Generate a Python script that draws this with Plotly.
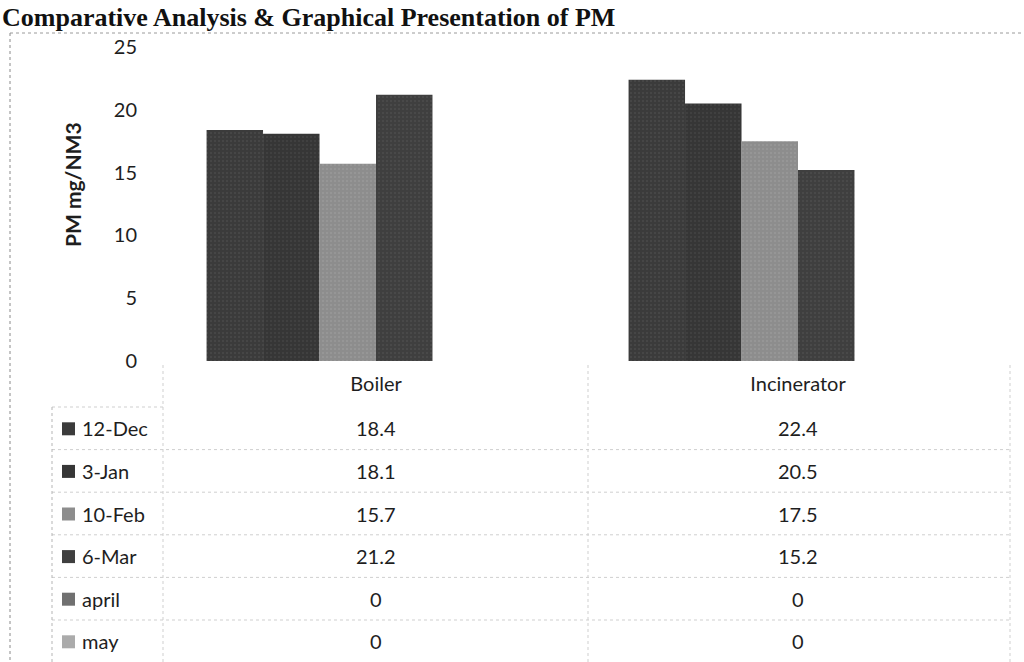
import plotly.graph_objects as go

# ---- data -------------------------------------------------------------
categories = ["Boiler", "Incinerator"]
series_names = ["12-Dec", "3-Jan", "10-Feb", "6-Mar", "april", "may"]
boiler_pm = [18.4, 18.1, 15.7, 21.2, 0, 0]
incinerator_pm = [22.4, 20.5, 17.5, 15.2, 0, 0]
y_ticks = [0, 5, 10, 15, 20, 25]

# ---- style ------------------------------------------------------------
series_colors = ["#3b3b3b", "#363636", "#8d8d8d", "#3f3f3f", "#707070", "#ababab"]
speckle = ["#555555", "#505050", "#a4a4a4", "#595959", "#888888", "#bdbdbd"]
SANS = "Lato, 'Open Sans', sans-serif"
TEXT = "#1e1e1e"
GRID = "#cfcfcf"
FS = 20

W, H = 1024, 662
L, R, T, B = 165, 1009, 47, 361  # plot area in pixels


def px_x(px):
    return (px - L) / (R - L)


def px_y(py):
    return (B - py) / (B - T)


fig = go.Figure()
for i, name in enumerate(series_names):
    fig.add_bar(
        x=categories,
        y=[boiler_pm[i], incinerator_pm[i]],
        name=name,
        marker=dict(
            color=series_colors[i],
            line_width=0,
            pattern=dict(shape=".", fgcolor=speckle[i], size=4, solidity=0.2),
        ),
        hovertemplate="%{x}: %{y}<extra>" + name + "</extra>",
    )

shapes = []
annotations = []

# outer dotted frame of the page section
frame_top = 33
shapes.append(dict(type="line", xref="paper", yref="paper",
                   x0=px_x(10), x1=px_x(1024), y0=px_y(frame_top), y1=px_y(frame_top),
                   line=dict(color="#9a9a9a", width=1, dash="dot")))
shapes.append(dict(type="line", xref="paper", yref="paper",
                   x0=px_x(10), x1=px_x(10), y0=px_y(frame_top), y1=px_y(662),
                   line=dict(color="#8a8a8a", width=1, dash="dot")))

# data table grid
row_top = 407
row_h = 42.6
n_rows = len(series_names)
col_edges = [52, 163, 588, 1010]
col_centers = [376, 798]

for k in range(1, n_rows + 1):
    yk = row_top + k * row_h
    shapes.append(dict(type="line", xref="paper", yref="paper",
                       x0=px_x(col_edges[0]), x1=px_x(col_edges[-1]),
                       y0=px_y(yk), y1=px_y(yk),
                       line=dict(color=GRID, width=1, dash="dot")))
shapes.append(dict(type="line", xref="paper", yref="paper",
                   x0=px_x(col_edges[0]), x1=px_x(col_edges[1]),
                   y0=px_y(row_top), y1=px_y(row_top),
                   line=dict(color=GRID, width=1, dash="dot")))
shapes.append(dict(type="line", xref="paper", yref="paper",
                   x0=px_x(col_edges[0]), x1=px_x(col_edges[0]),
                   y0=px_y(row_top), y1=px_y(H),
                   line=dict(color="#b5b5b5", width=1, dash="dot")))
for xe in col_edges[1:]:
    shapes.append(dict(type="line", xref="paper", yref="paper",
                       x0=px_x(xe), x1=px_x(xe), y0=px_y(B + 4), y1=px_y(H),
                       line=dict(color=GRID, width=1, dash="dot")))

# table rows: legend key, series name, one value per category
for i, name in enumerate(series_names):
    yc = row_top + (i + 0.5) * row_h
    shapes.append(dict(type="rect", xref="paper", yref="paper",
                       x0=px_x(62), x1=px_x(75), y0=px_y(yc - 6), y1=px_y(yc + 7),
                       fillcolor=series_colors[i], line_width=0))
    annotations.append(dict(x=px_x(80), y=px_y(yc), xref="paper", yref="paper",
                            text=name, showarrow=False, xanchor="left",
                            yanchor="middle", font=dict(family=SANS, size=FS, color=TEXT)))
    for c, vals in enumerate([boiler_pm, incinerator_pm]):
        annotations.append(dict(x=px_x(col_centers[c]), y=px_y(yc), xref="paper",
                                yref="paper", text=f"{vals[i]:g}", showarrow=False,
                                xanchor="center", yanchor="middle",
                                font=dict(family=SANS, size=FS, color=TEXT)))

# y-axis title
annotations.append(dict(x=px_x(72), y=px_y(185), xref="paper", yref="paper",
                        text="<b>PM mg/NM3</b>", textangle=-90, showarrow=False,
                        xanchor="center", yanchor="middle",
                        font=dict(family=SANS, size=21, color=TEXT)))

# page heading
annotations.append(dict(x=px_x(0), y=px_y(34), xref="paper", yref="paper",
                        text="<b>Comparative Analysis &amp; Graphical Presentation of PM</b>",
                        showarrow=False, xanchor="left", yanchor="bottom",
                        font=dict(family="'Liberation Serif', 'Times New Roman', serif",
                                  size=26, color="#111111")))

fig.update_layout(
    width=W, height=H,
    margin=dict(l=L, r=W - R, t=T, b=H - B),
    paper_bgcolor="white", plot_bgcolor="white",
    barmode="group", bargap=0.197, bargroupgap=0,
    showlegend=False,
    shapes=shapes, annotations=annotations,
    xaxis=dict(showline=False, showgrid=False, ticks="",
               tickfont=dict(family=SANS, size=FS, color=TEXT),
               ticklabelstandoff=9),
    yaxis=dict(range=[0, 25], tickvals=y_ticks, showgrid=False, zeroline=False,
               showline=False, ticks="",
               tickfont=dict(family=SANS, size=FS, color=TEXT),
               ticklabelstandoff=27),
)

fig.write_html("out.html")
